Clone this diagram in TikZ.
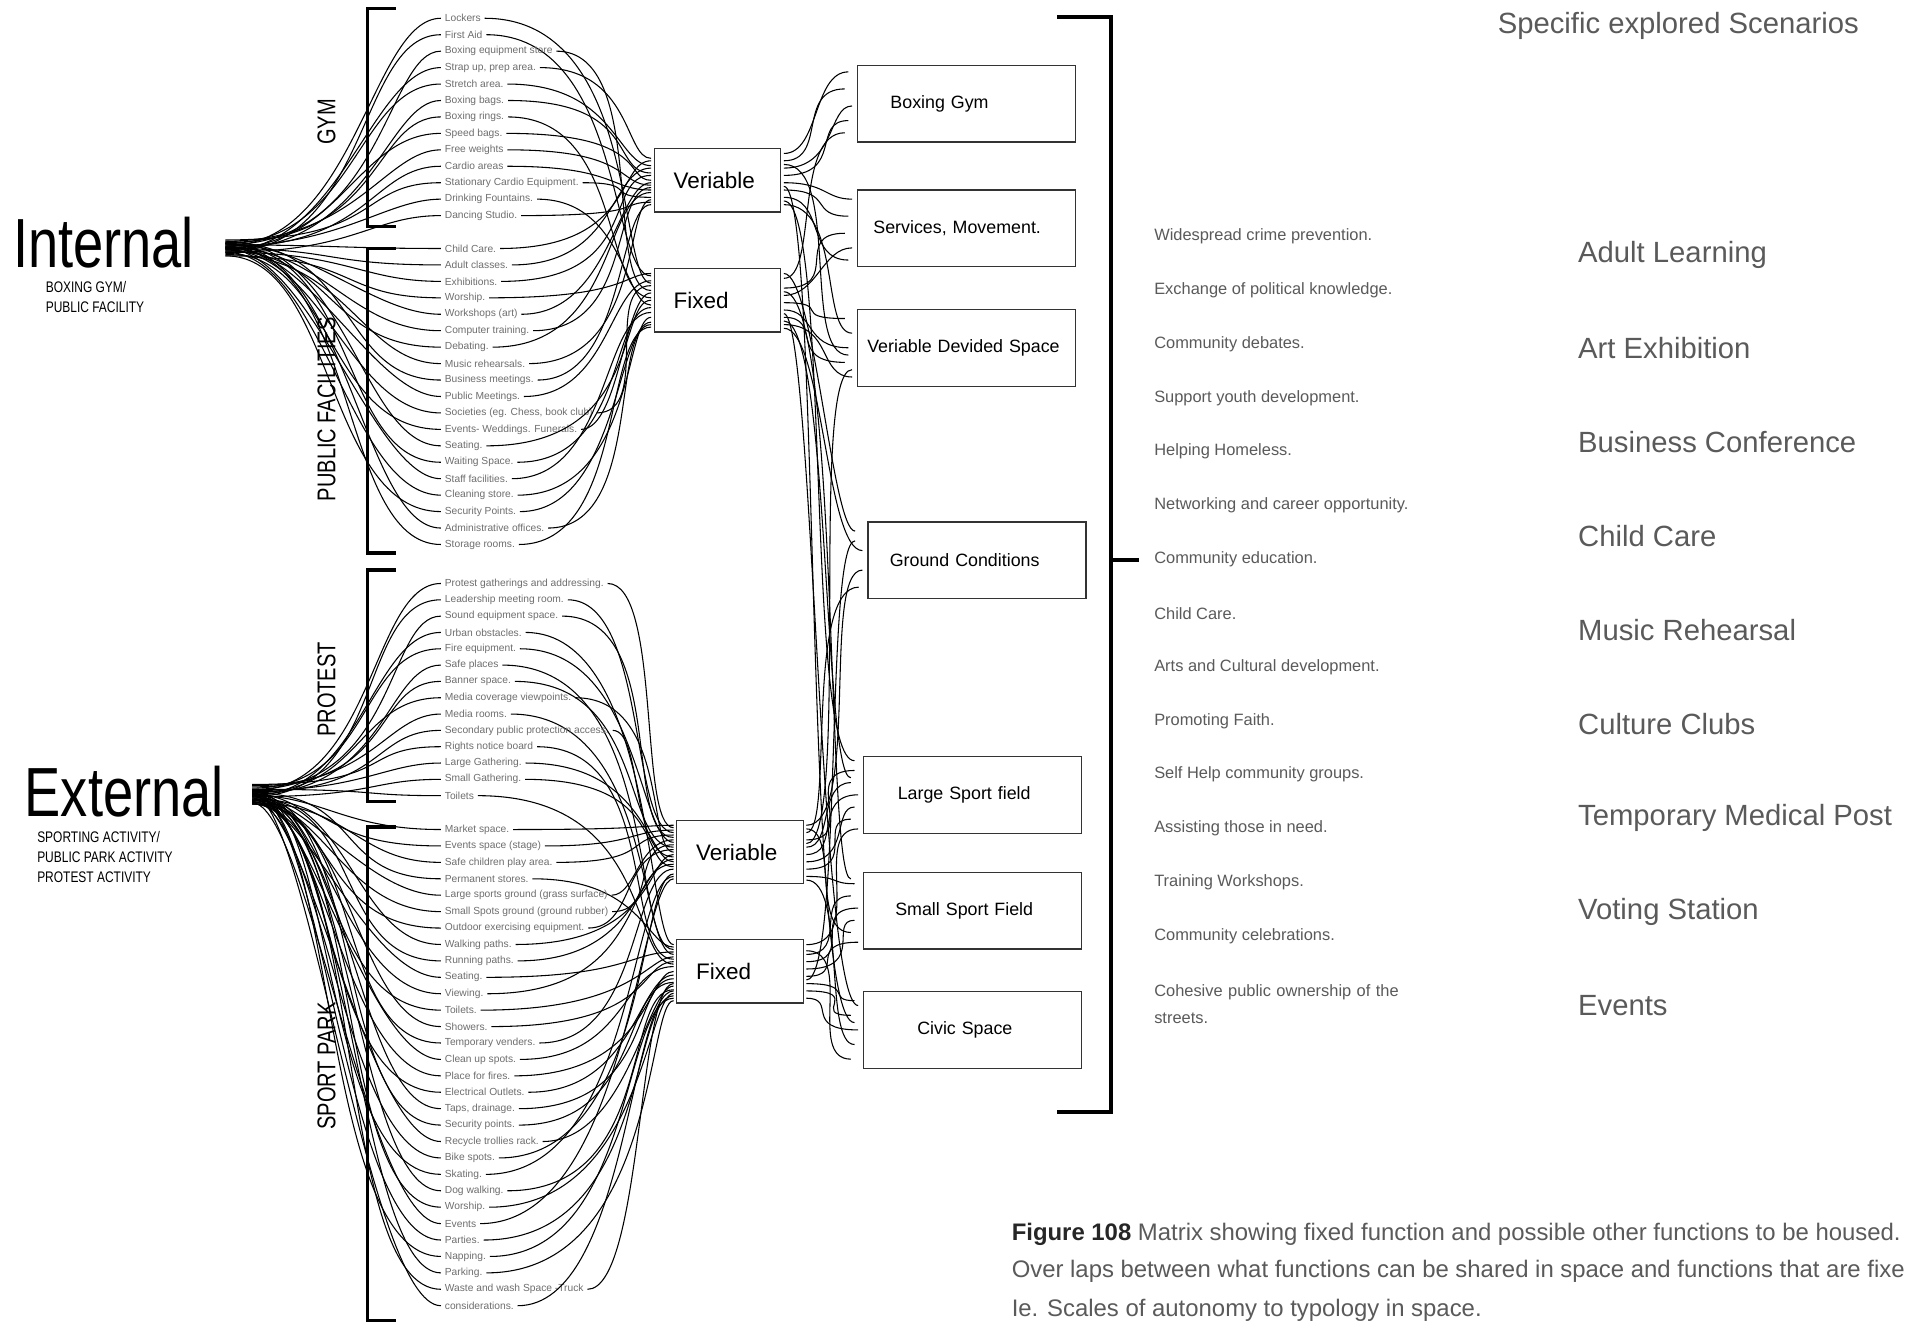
\documentclass[tikz,border=0pt]{standalone}
\usepackage{fontspec}
\setmainfont{Liberation Sans}
\newfontfamily\narrowfont[FakeStretch=0.78]{Liberation Sans}
\usetikzlibrary{calc,positioning}
\definecolor{itemgray}{HTML}{6E6E6E}
\definecolor{txtgray}{HTML}{5A5A5A}
\definecolor{boxline}{HTML}{333333}
\newcommand{\pu}{0.12mm}
\tikzset{wire/.style={line width=0.3pt},
  brk/.style={line width=0.9pt},
  rbrk/.style={line width=1.2pt},
  item/.style={anchor=west, inner xsep=0.9pt, inner ysep=0.3pt, text=itemgray, font=\fontsize{2.87}{3.4}\selectfont},
  grp/.style={rotate=90, inner sep=0pt, font=\narrowfont\fontsize{7.2}{8}\selectfont},
  big/.style={inner sep=0pt, font=\narrowfont\fontsize{19.5}{20}\selectfont},
  sub/.style={anchor=west, align=left, inner sep=0pt, font=\narrowfont\fontsize{4.3}{5.6}\selectfont},
  mbox/.style={draw=boxline, line width=0.35pt, minimum height=52*\pu, inner xsep=16*\pu, text width=72*\pu, align=left, font=\fontsize{6.3}{7}\selectfont},
  rbox/.style={draw=boxline, line width=0.35pt, minimum height=63*\pu, inner xsep=#1*\pu, text width={(179-2*#1)*\pu}, align=left, font=\fontsize{5}{6}\selectfont},
  gtxt/.style={anchor=west, inner sep=0pt, text=txtgray}}

\begin{document}
\begin{tikzpicture}[x=0.12mm, y=-0.12mm]
  \path[fill=white, use as bounding box] (0,0) rectangle (1568,1086);
  % function types
  \node[mbox] (v1) at (589,148) {Veriable};
  \node[mbox] (f1) at (589,246.5) {Fixed};
  \node[mbox] (v2) at (607.5,699.5) {Veriable};
  \node[mbox] (f2) at (607.5,797.5) {Fixed};
  % typologies
  \node[rbox=27] (bg) at (793.5,85) {Boxing Gym};
  \node[rbox=13] (sm) at (793.5,187.5) {Services, Movement.};
  \node[rbox=8] (vd) at (793.5,285.5) {Veriable Devided Space};
  \node[rbox=18] (gc) at (802,460) {Ground Conditions};
  \node[rbox=28] (ls) at (798.5,652.5) {Large Sport field};
  \node[rbox=26] (ss) at (798.5,747.5) {Small Sport Field};
  \node[rbox=44] (cs) at (798.5,845.5) {Civic Space};

  \node[big] (intl) at (85,199) {Internal};
  \node[sub] (intsub) at (37,244) {BOXING GYM/\\PUBLIC FACILITY};
  \node[big] (extl) at (102,650) {External};
  \node[sub] (extsub) at (30,703.5) {SPORTING ACTIVITY/\\PUBLIC PARK ACTIVITY\\PROTEST ACTIVITY};
  \coordinate (inhub) at (185,202);
  \coordinate (exhub) at (207,652);

  % brackets
  \draw[brk] (325,7) -| (302,186) -- (325,186);
  \draw[brk] (325,204) -| (302,454) -- (325,454);
  \draw[brk] (325,468) -| (302,658) -- (325,658);
  \draw[brk] (325,679) -| (302,1084) -- (325,1084);
  \draw[rbrk] (868,14) -| (912,913) -- (868,913);
  \draw[rbrk] (912,460) -- (935,460);
  \node[grp] (lgym) at (268,100) {GYM};
  \node[grp] (lpub) at (268,336) {PUBLIC FACILITIES};
  \node[grp] (lpro) at (268,566) {PROTEST};
  \node[grp] (lspt) at (268,875) {SPORT PARK};

  % gym
  \foreach \lbl/\tg/\dy [count=\i] in {Lockers/f1/-14, First Aid/f1/-20, Boxing equipment store/f1/-8,
      {Strap up, prep area.}/v1/-18, Stretch area./v1/-12, Boxing bags./v1/-6, Boxing rings./f1/-2,
      Speed bags./v1/0, Free weights/v1/4, Cardio areas/v1/8, Stationary Cardio Equipment./v1/14,
      Drinking Fountains./f1/4, Dancing Studio./v1/18}{
    \node[item] (g\i) at (362,{15+13.5*(\i-1)}) {\lbl};
    \path (g\i.east); \pgfgetlastxy{\ex}{\ey}
    \pgfmathsetmacro\ca{max(25,505-\ex/0.34157)+mod(\i*3,5)*7}
    \draw[wire] ($(inhub)+(0,{mod(\i*5,11)-5})$) .. controls +({95+mod(\i,4)*12},0) and +({-45-mod(\i,3)*12},0) .. (g\i.west);
    \draw[wire] (g\i.east) .. controls +(\ca,0) and +({-22-mod(\i,4)*6},0) .. ($(\tg.west)+(-2,\dy)$);
  }
  % public facilities
  \foreach \lbl/\tg/\dy [count=\i] in {Child Care./v1/-16, Adult classes./v1/-10, Exhibitions./v1/-4,
      Worship./f1/-22, Workshops (art)/v1/2, Computer training./v1/6, Debating./v1/10,
      Music rehearsals./v1/16, Business meetings./v1/20, Public Meetings./f1/-16,
      {Societies (eg. Chess, book club)}/f1/-12, Events- Weddings. Funerals./f1/-6, Seating./f1/0,
      Waiting Space./f1/6, Staff facilities./f1/10, Cleaning store./f1/14, Security Points./f1/18,
      Administrative offices./f1/20, Storage rooms./f1/22}{
    \node[item] (p\i) at (362,{204+13.5*(\i-1)}) {\lbl};
    \path (p\i.east); \pgfgetlastxy{\ex}{\ey}
    \pgfmathsetmacro\ca{max(25,500-\ex/0.34157)+mod(\i*3,5)*7}
    \draw[wire] ($(inhub)+(0,{mod(\i*3,13)-4})$) .. controls +({70+mod(\i,5)*10},0) and +({-55-mod(\i*2,5)*10},0) .. (p\i.west);
    \draw[wire] (p\i.east) .. controls +(\ca,0) and +({-22-mod(\i,4)*6},0) .. ($(\tg.west)+(-2,\dy)$);
  }
  % protest
  \foreach \lbl/\tg/\dy [count=\i] in {Protest gatherings and addressing./v2/-20, Leadership meeting room./v2/-16,
      Sound equipment space./v2/-12, Urban obstacles./f2/-22, Fire equipment./v2/-8, Safe places/f2/-18,
      Banner space./v2/-4, Media coverage viewpoints./v2/0, Media rooms./f2/-14,
      Secondary public protection access./v2/4, Rights notice board/f2/-10, Large Gathering./v2/8,
      Small Gathering./v2/12, Toilets/f2/-6}{
    \node[item] (r\i) at (362,{479+13.4*(\i-1)}) {\lbl};
    \path (r\i.east); \pgfgetlastxy{\ex}{\ey}
    \pgfmathsetmacro\ca{max(25,525-\ex/0.34157)+mod(\i*3,5)*6}
    \draw[wire] ($(exhub)+(0,{mod(\i*5,11)-8})$) .. controls +({90+mod(\i,4)*10},0) and +({-45-mod(\i,3)*12},0) .. (r\i.west);
    \draw[wire] (r\i.east) .. controls +(\ca,0) and +({-22-mod(\i,4)*7},0) .. ($(\tg.west)+(-2,\dy)$);
  }
  % sport park
  \foreach \lbl/\tg/\dy [count=\i] in {Market space./v2/-22, Events space (stage)/v2/-18,
      Safe children play area./v2/-14, Permanent stores./f2/-20, Large sports ground (grass surface)/v2/-10,
      Small Spots ground (ground rubber)/v2/-6, Outdoor exercising equipment./v2/-2, Walking paths./v2/2,
      Running paths./v2/6, Seating./f2/-16, Viewing./v2/10, Toilets./f2/-12, Showers./f2/-8,
      Temporary venders./v2/14, Clean up spots./f2/-4, Place for fires./f2/0, Electrical Outlets./f2/3,
      {Taps, drainage.}/f2/6, Security points./f2/9, Recycle trollies rack./f2/12, Bike spots./v2/18,
      Skating./v2/20, Dog walking./f2/15, Worship./f2/18, Events/v2/22, Parties./f2/20, Napping./f2/22,
      Parking./f2/24, Waste and wash Space -Truck/f2/10, considerations./f2/16}{
    \node[item] (s\i) at (362,{681+13.48*(\i-1)}) {\lbl};
    \path (s\i.east); \pgfgetlastxy{\ex}{\ey}
    \pgfmathsetmacro\ca{max(20,515-\ex/0.34157)+mod(\i*3,5)*6}
    \draw[wire] ($(exhub)+(0,{mod(\i*3,11)-2})$) .. controls +({45+mod(\i,5)*12},0) and +({-60-mod(\i*2,5)*10},0) .. (s\i.west);
    \draw[wire] (s\i.east) .. controls +(\ca,0) and +({-22-mod(\i,4)*7},0) .. ($(\tg.west)+(-2,\dy)$);
  }

  % type -> typology
  \foreach \s/\sd/\e/\ed [count=\j] in {v1/-22/bg/-26, v1/-16/bg/-12, v1/-10/bg/2, v1/-4/bg/14, f1/-18/bg/24,
      v1/2/sm/-24, v1/8/sm/-10, f1/-10/sm/4, f1/-4/sm/16, v1/14/sm/26,
      f1/2/vd/-24, v1/20/vd/-12, f1/8/vd/0, f1/14/vd/12, f1/20/vd/24, v1/-13/vd/6,
      f1/-22/gc/-24, f1/23/gc/-8, v1/17/ls/-28, f1/-7/ss/-26, f1/11/cs/-20, v1/5/cs/-6, f1/17/ls/-14,
      v2/-22/gc/8, v2/-16/gc/22, f2/7/gc/-16, v2/-7/vd/18,
      v2/-10/ls/-20, v2/-4/ls/-10, v2/2/ls/0, v2/8/ls/10, v2/14/ls/20, f2/-22/ls/28,
      v2/20/ss/-22, f2/-14/ss/-12, f2/-8/ss/-2, f2/-2/ss/8, v2/-19/ss/18, f2/4/ss/26,
      f2/10/cs/-24, f2/16/cs/-12, f2/22/cs/0, v2/23/cs/12, f2/-17/cs/24}
    \draw[wire] ($(\s.east)+(2,\sd)$) .. controls +({22+mod(\j*7,29)},0) and +({-18-mod(\j*11,31)},0) .. ($(\e.west)+({-4-mod(\j*3,9)},\ed)$);

  % outcomes
  \foreach \lbl [count=\i] in {Widespread crime prevention., Exchange of political knowledge., Community debates.,
      Support youth development., Helping Homeless., Networking and career opportunity., Community education.,
      Child Care., Arts and Cultural development., Promoting Faith., Self Help community groups.,
      Assisting those in need., Training Workshops., Community celebrations.}
    \node[gtxt, font=\fontsize{4.6}{5.5}\selectfont] (t\i) at (947,{194+44.2*(\i-1)}) {\lbl};
  \node[gtxt, anchor=base west, text width=60mm, align=left, font=\fontsize{4.6}{7.5}\selectfont] (t15) at (947,818) {Cohesive public ownership of the\\streets.};

  % scenarios
  \node[gtxt, font=\fontsize{8.2}{9}\selectfont] (head) at (1229,21) {Specific explored Scenarios};
  \foreach \lbl [count=\i] in {Adult Learning, Art Exhibition, Business Conference, Child Care, Music Rehearsal,
      Culture Clubs, Temporary Medical Post, Voting Station, Events}
    \node[gtxt, font=\fontsize{8.2}{9}\selectfont] (sc\i) at (1295,{209+77.1*(\i-1)}) {\lbl};

  % caption
  \node[gtxt, font=\fontsize{6.7}{8}\selectfont] (cap1) at (830,1013) {\textbf{\textcolor{black!85}{Figure 108}} Matrix showing fixed function and possible other functions to be housed.};
  \node[gtxt, font=\fontsize{6.7}{8}\selectfont] (cap2) at (830,1044) {Over laps between what functions can be shared in space and functions that are fixe};
  \node[gtxt, font=\fontsize{6.7}{8}\selectfont] (cap3) at (830,1076) {Ie. Scales of autonomy to typology in space.};
\end{tikzpicture}
\end{document}
